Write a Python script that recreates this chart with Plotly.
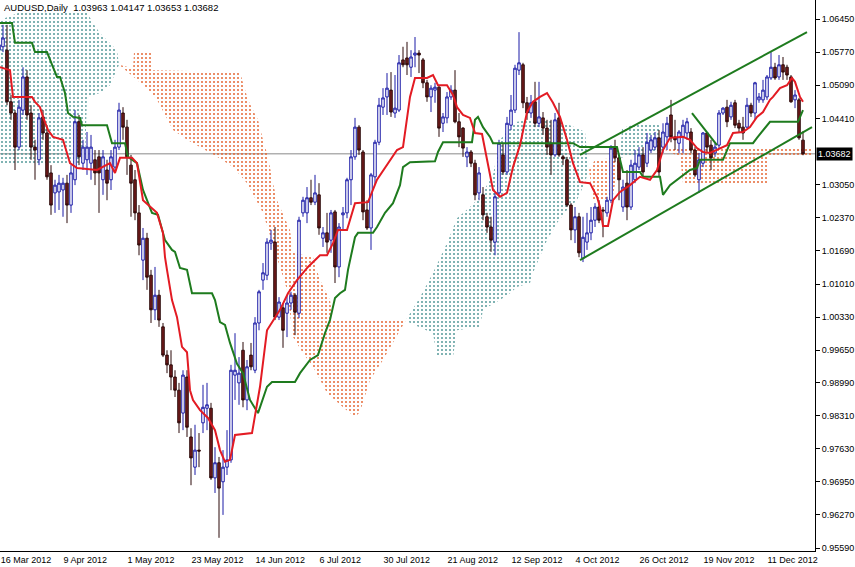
import plotly.graph_objects as go

# ---------------- data ----------------
bar_index = list(range(202))

open_ = [
1.0581,1.0588,1.0581,1.0475,1.0452,1.0382,1.0458,1.0526,1.0452,1.0382,
1.0356,1.0444,1.0411,1.0329,1.0288,1.0290,1.0294,1.0308,1.0263,1.0315,
1.0434,1.0349,1.0356,1.0349,1.0356,1.0362,1.0315,1.0335,1.0315,1.0341,
1.0382,1.0452,1.0423,1.0345,1.0315,1.0247,1.0150,1.0195,1.0119,1.0048,
1.0078,1.0013,0.9955,0.9935,0.9910,0.9883,0.9836,0.9910,0.9787,0.9725,
0.9760,0.9816,0.9846,0.9846,0.9703,0.9734,0.9695,0.9725,0.9740,0.9914,
0.9898,0.9965,0.9863,0.9955,0.9924,1.0021,1.0109,1.0119,1.0185,1.0187,
1.0033,1.0052,1.0041,1.0062,1.0078,1.0041,1.0247,1.0247,1.0278,1.0269,
1.0284,1.0195,1.0206,1.0191,1.0249,1.0136,1.0243,1.0247,1.0315,1.0362,
1.0423,1.0372,1.0253,1.0216,1.0321,1.0392,1.0464,1.0485,1.0499,1.0452,
1.0458,1.0561,1.0565,1.0546,1.0571,1.0575,1.0561,1.0514,1.0485,1.0499,
1.0505,1.0431,1.0442,1.0485,1.0499,1.0434,1.0421,1.0362,1.0372,1.0349,
1.0288,1.0284,1.0239,1.0218,1.0187,1.0288,1.0366,1.0331,1.0427,1.0458,
1.0540,1.0551,1.0473,1.0452,1.0475,1.0431,1.0442,1.0421,1.0390,1.0366,
1.0442,1.0362,1.0356,1.0263,1.0212,1.0239,1.0154,1.0187,1.0206,1.0232,
1.0259,1.0253,1.0247,1.0273,1.0380,1.0360,1.0259,1.0308,1.0259,1.0315,
1.0341,1.0366,1.0349,1.0376,1.0382,1.0401,1.0382,1.0403,1.0448,1.0403,
1.0390,1.0403,1.0411,1.0413,1.0376,1.0315,1.0349,1.0411,1.0386,1.0370,
1.0386,1.0452,1.0464,1.0444,1.0473,1.0431,1.0423,1.0423,1.0468,1.0452,
1.0479,1.0479,1.0485,1.0524,1.0546,1.0526,1.0551,1.0546,1.0526,1.0479,
1.0479,1.03963]

high = [
1.0622,1.0633,1.0633,1.0489,1.0458,1.0479,1.0546,1.0540,1.0468,1.0397,
1.0452,1.0458,1.0427,1.0345,1.0315,1.0325,1.0319,1.0325,1.0345,1.0458,
1.0448,1.0397,1.0413,1.0407,1.0376,1.0376,1.0376,1.0356,1.0376,1.0397,
1.0473,1.0464,1.0438,1.0366,1.0335,1.0263,1.0216,1.0206,1.0130,1.0136,
1.0089,1.0021,0.9965,0.9965,0.9924,0.9898,0.9924,0.9924,0.9805,0.9812,
0.9795,0.9894,0.9898,0.9857,0.9766,0.9746,0.9760,0.9801,0.9935,1.0000,
0.9951,0.9982,0.9945,0.9980,1.0033,1.0089,1.0144,1.0195,1.0212,1.0218,
1.0074,1.0062,1.0078,1.0085,1.0082,1.0239,1.0280,1.0300,1.0315,1.0325,
1.0308,1.0218,1.0247,1.0253,1.0253,1.0226,1.0259,1.0319,1.0376,1.0442,
1.0427,1.0376,1.0273,1.0329,1.0397,1.0483,1.0503,1.0534,1.0536,1.0530,
1.0571,1.0588,1.0598,1.0581,1.0608,1.0581,1.0565,1.0520,1.0509,1.0514,
1.0509,1.0452,1.0495,1.0509,1.0540,1.0452,1.0423,1.0382,1.0376,1.0356,
1.0341,1.0300,1.0247,1.0239,1.0288,1.0397,1.0390,1.0444,1.0489,1.0551,
1.0618,1.0555,1.0485,1.0489,1.0516,1.0516,1.0454,1.0438,1.0438,1.0452,
1.0473,1.0366,1.0362,1.0267,1.0259,1.0247,1.0239,1.0247,1.0259,1.0267,
1.0273,1.0259,1.0280,1.0386,1.0397,1.0366,1.0315,1.0335,1.0356,1.0376,
1.0382,1.0382,1.0411,1.0407,1.0413,1.0417,1.0431,1.0444,1.0479,1.0438,
1.0417,1.0438,1.0442,1.0421,1.0382,1.0370,1.0413,1.0413,1.0397,1.0390,
1.0458,1.0464,1.0479,1.0475,1.0479,1.0438,1.0444,1.0483,1.0473,1.0516,
1.0493,1.0520,1.0530,1.0577,1.0555,1.0571,1.0567,1.0551,1.0530,1.0499,
1.0483,1.04147]

low = [
1.0561,1.0577,1.0468,1.0438,1.0335,1.0376,1.0448,1.0438,1.0356,1.0315,
1.0345,1.0397,1.0315,1.0243,1.0247,1.0253,1.0239,1.0226,1.0247,1.0304,
1.0345,1.0335,1.0325,1.0315,1.0304,1.0247,1.0284,1.0273,1.0294,1.0335,
1.0376,1.0397,1.0325,1.0239,1.0232,1.0160,1.0109,1.0089,1.0021,1.0027,
1.0013,0.9951,0.9918,0.9883,0.9869,0.9795,0.9801,0.9787,0.9688,0.9709,
0.9725,0.9795,0.9801,0.9699,0.9672,0.9580,0.9627,0.9709,0.9734,0.9863,
0.9853,0.9848,0.9842,0.9924,0.9918,1.0006,1.0089,1.0109,1.0171,1.0027,
1.0027,0.9970,0.9992,1.0048,0.9996,1.0031,1.0239,1.0226,1.0263,1.0263,
1.0202,1.0177,1.0165,1.0165,1.0103,1.0115,1.0212,1.0236,1.0263,1.0356,
1.0366,1.0232,1.0212,1.0171,1.0304,1.0386,1.0448,1.0448,1.0444,1.0442,
1.0454,1.0546,1.0530,1.0526,1.0546,1.0534,1.0503,1.0475,1.0454,1.0473,
1.0403,1.0413,1.0431,1.0479,1.0431,1.0382,1.0362,1.0341,1.0341,1.0273,
1.0273,1.0232,1.0206,1.0167,1.0160,1.0280,1.0325,1.0325,1.0417,1.0452,
1.0530,1.0462,1.0438,1.0442,1.0423,1.0423,1.0407,1.0366,1.0325,1.0362,
1.0362,1.0345,1.0259,1.0191,1.0185,1.0156,1.0146,1.0171,1.0191,1.0218,
1.0226,1.0197,1.0239,1.0267,1.0351,1.0273,1.0249,1.0232,1.0253,1.0308,
1.0335,1.0321,1.0341,1.0370,1.0376,1.0321,1.0370,1.0376,1.0392,1.0376,
1.0370,1.0370,1.0397,1.0370,1.0321,1.0288,1.0341,1.0370,1.0335,1.0362,
1.0380,1.0448,1.0423,1.0438,1.0421,1.0413,1.0397,1.0421,1.0444,1.0438,
1.0473,1.0473,1.0479,1.0520,1.0520,1.0520,1.0520,1.0520,1.0473,1.0462,
1.0397,1.03653]

close = [
1.0592,1.0606,1.0475,1.0452,1.0382,1.0464,1.0526,1.0448,1.0382,1.0376,
1.0442,1.0411,1.0321,1.0263,1.0304,1.0308,1.0308,1.0263,1.0329,1.0434,
1.0362,1.0382,1.0382,1.0382,1.0329,1.0329,1.0362,1.0308,1.0362,1.0382,
1.0458,1.0423,1.0362,1.0308,1.0247,1.0181,1.0195,1.0115,1.0048,1.0078,
1.0027,0.9955,0.9935,0.9910,0.9883,0.9816,0.9914,0.9807,0.9744,0.9760,
0.9758,0.9848,0.9853,0.9703,0.9734,0.9682,0.9725,0.9740,0.9924,0.9924,
0.9918,0.9863,0.9931,0.9931,1.0021,1.0085,1.0124,1.0187,1.0191,1.0033,
1.0064,1.0006,1.0062,1.0078,1.0043,1.0232,1.0273,1.0278,1.0269,1.0288,
1.0216,1.0206,1.0187,1.0247,1.0136,1.0218,1.0247,1.0315,1.0362,1.0423,
1.0376,1.0249,1.0216,1.0325,1.0392,1.0468,1.0483,1.0503,1.0454,1.0462,
1.0555,1.0551,1.0551,1.0567,1.0575,1.0571,1.0514,1.0485,1.0503,1.0505,
1.0421,1.0444,1.0485,1.0499,1.0434,1.0403,1.0380,1.0372,1.0349,1.0284,
1.0329,1.0243,1.0218,1.0191,1.0280,1.0390,1.0331,1.0431,1.0458,1.0544,
1.0555,1.0473,1.0452,1.0473,1.0431,1.0444,1.0421,1.0382,1.0366,1.0438,
1.0366,1.0358,1.0263,1.0212,1.0239,1.0165,1.0197,1.0206,1.0232,1.0259,
1.0232,1.0251,1.0273,1.0380,1.0360,1.0315,1.0300,1.0259,1.0345,1.0349,
1.0366,1.0331,1.0392,1.0397,1.0401,1.0331,1.0413,1.0431,1.0403,1.0397,
1.0413,1.0427,1.0434,1.0376,1.0325,1.0356,1.0411,1.0382,1.0360,1.0382,
1.0452,1.0462,1.0434,1.0468,1.0427,1.0421,1.0411,1.0468,1.0452,1.0514,
1.0485,1.0499,1.0526,1.0546,1.0524,1.0551,1.0536,1.0530,1.0475,1.0489,
1.0401,1.03682]

# Tenkan-sen (red) vertices: bar index / price
tenkan_x = [0.25,2.75,3.5,8.25,9.0,10.25,11.0,12.25,13.5,16.0,17.75,19.5,24.5,27.75,29.0,30.25,33.25,34.5,
            36.0,39.5,41.0,41.5,42.0,43.25,44.5,45.75,47.0,47.75,48.5,50.25,52.25,54.0,55.25,56.5,57.75,59.0,
            63.25,64.75,65.25,67.0,70.25,72.25,74.5,77.25,80.25,82.0,83.5,84.75,87.0,89.0,92.25,94.5,97.75,
            99.5,101.0,102.0,102.75,104.0,107.0,108.5,109.75,112.0,113.5,114.5,116.0,117.75,119.0,120.75,122.0,
            123.5,125.25,127.0,128.5,130.25,132.0,133.5,135.25,137.0,138.5,140.25,142.0,143.5,145.25,147.75,
            149.5,150.25,151.0,152.25,153.5,155.25,157.75,160.25,162.75,164.5,166.0,167.75,171.0,172.75,174.5,
            176.0,177.75,179.5,182.0,183.5,186.0,187.75,189.5,191.0,192.75,193.5,195.25,197.0,198.25,199.0,
            200.25,201.0]
tenkan_y = [1.0546,1.0540,1.0485,1.0485,1.0475,1.0464,1.0444,1.0417,1.0403,1.0397,1.0349,1.0339,1.0335,1.0349,1.0329,1.0360,1.0360,1.0349,
            1.0273,1.0247,1.0206,1.0156,1.0130,1.0068,1.0033,0.9972,0.9961,0.9883,0.9863,0.9842,0.9826,0.9801,0.9760,0.9736,0.9740,0.9791,
            0.9795,0.9863,0.9890,1.0006,1.0048,1.0082,1.0109,1.0136,1.0160,1.0160,1.0185,1.0212,1.0212,1.0267,1.0269,1.0315,1.0356,
            1.0376,1.0382,1.0438,1.0485,1.0524,1.0524,1.0530,1.0509,1.0509,1.0489,1.0464,1.0448,1.0442,1.0411,1.0409,1.0356,
            1.0294,1.0280,1.0288,1.0341,1.0386,1.0454,1.0475,1.0485,1.0493,1.0473,1.0444,1.0397,1.0349,1.0310,1.0308,
            1.0280,1.0259,1.0220,1.0220,1.0273,1.0290,1.0304,1.0321,1.0315,1.0335,1.0376,1.0401,1.0403,1.0397,1.0380,
            1.0372,1.0370,1.0376,1.0386,1.0411,1.0413,1.0423,1.0444,1.0454,1.0479,1.0485,1.0503,1.0509,1.0524,1.0516,
            1.0485,1.0475]

# Kijun-sen (green) vertices
kijun_x = [0.25,3.25,4.0,8.25,9.0,12.0,13.5,14.5,15.25,16.5,17.25,18.5,20.25,20.75,27.0,28.25,31.5,32.25,34.5,
           36.0,37.0,38.25,39.75,41.5,43.25,44.0,45.25,47.0,48.25,53.25,54.0,55.25,56.5,57.75,59.5,61.0,62.75,
           64.75,67.0,68.25,74.0,75.25,77.75,79.75,81.5,82.75,84.0,85.25,86.5,87.25,89.0,89.75,93.5,94.5,96.5,
           98.5,100.25,101.0,102.75,109.0,109.75,111.0,118.25,119.0,119.75,121.0,122.75,123.5,143.5,145.25,
           154.5,156.0,160.25,161.0,165.25,166.0,167.75,169.5,171.0,172.75,174.5,175.25,181.0,182.75,188.5,
           189.5,192.75,199.75,201.0]
kijun_y = [1.0637,1.0637,1.0596,1.0596,1.0577,1.0577,1.0546,1.0526,1.0526,1.0493,1.0452,1.0444,1.0442,1.0427,1.0427,1.0390,1.0390,1.0362,1.0349,
           1.0294,1.0273,1.0247,1.0243,1.0191,1.0171,1.0167,1.0134,1.0130,1.0082,1.0082,1.0068,1.0023,1.0017,0.9980,0.9937,0.9918,0.9863,
           0.9836,0.9890,0.9900,0.9900,0.9918,0.9945,0.9955,1.0000,1.0027,1.0072,1.0082,1.0089,1.0130,1.0197,1.0206,1.0206,1.0218,1.0247,
           1.0267,1.0304,1.0341,1.0351,1.0353,1.0372,1.0392,1.0392,1.0438,1.0444,1.0423,1.0403,1.0390,1.0390,1.0382,
           1.0382,1.0331,1.0331,1.0321,1.0321,1.0284,1.0304,1.0315,1.0325,1.0335,1.0339,1.0356,1.0356,1.0390,1.0390,
           1.0401,1.0434,1.0434,1.0458]

# drawn trend lines
channel_upper_x = [145.25, 202.0]
channel_upper_y = [1.0366, 1.0618]
channel_lower_x = [145.25, 203.25]
channel_lower_y = [1.0150, 1.0423]
flag_line_x = [173.25, 179.5]
flag_line_y = [1.0452, 1.0386]

# Kumo (cloud) outlines: top and bottom edges of each section
kumo1_top_x = [0.25,5.25,22.0,23.5,25.25,27.75,29.5,30.0]
kumo1_top_y = [1.0643,1.0659,1.0659,1.0637,1.0616,1.0596,1.0581,1.0551]
kumo1_bot_x = [0.25,21.5,22.0,25.25,27.75,30.0]
kumo1_bot_y = [1.0349,1.0349,1.0485,1.0493,1.0509,1.0551]

kumo2_top_x = [30.0,33.5,33.75,38.25,38.5,60.25,61.0,62.25,63.5,64.75,66.0,67.25,68.5,69.5,72.75,73.5,78.5,80.25,82.75,83.5,101.75]
kumo2_top_y = [1.0551,1.0544,1.0577,1.0577,1.0540,1.0536,1.0514,1.0479,1.0458,1.0438,1.0397,1.0362,1.0308,1.0273,1.0212,1.0165,1.0156,1.0109,1.0068,1.0027,1.0027]
kumo2_bot_x = [30.0,37.0,39.5,43.5,47.0,50.25,54.5,58.5,62.0,66.0,69.5,72.0,73.5,76.0,78.5,80.25,82.0,86.0,89.0,90.25,92.75,96.0,101.75]
kumo2_bot_y = [1.0551,1.0503,1.0479,1.0417,1.0397,1.0382,1.0362,1.0341,1.0308,1.0247,1.0156,1.0089,0.9992,0.9959,0.9931,0.9904,0.9877,0.9848,0.9828,0.9838,0.9904,0.9945,1.0027]

kumo3_top_x = [101.75,105.25,108.5,112.0,114.5,117.75,120.25,123.5,125.25,127.75,129.5,132.75,140.25,144.0,146.5,147.5]
kumo3_top_y = [1.0027,1.0074,1.0124,1.0185,1.0236,1.0259,1.0280,1.0325,1.0397,1.0421,1.0434,1.0438,1.0434,1.0423,1.0413,1.0335]
kumo3_bot_x = [101.75,102.75,108.5,109.5,113.5,114.5,120.25,121.0,125.25,127.75,129.5,132.75,133.5,137.0,139.5,142.0,144.5,146.5,147.5]
kumo3_bot_y = [1.0027,1.0021,1.0000,0.9951,0.9951,1.0006,1.0013,1.0048,1.0068,1.0082,1.0095,1.0103,1.0124,1.0191,1.0226,1.0253,1.0273,1.0310,1.0335]

kumo4_top_x = [147.5,149.0,155.25]
kumo4_top_y = [1.0335,1.0356,1.0360]
kumo4_bot_x = [147.5,148.5,153.25,155.25]
kumo4_bot_y = [1.0335,1.0273,1.0273,1.0360]

kumo5_top_x = [155.25,155.75,160.25,165.25,166.5]
kumo5_top_y = [1.0360,1.0421,1.0431,1.0427,1.0376]
kumo5_bot_x = [155.25,160.25,166.5]
kumo5_bot_y = [1.0360,1.0366,1.0376]

kumo6_top_x = [166.5,169.0,203.5]
kumo6_top_y = [1.0376,1.0382,1.0382]
kumo6_bot_x = [166.5,170.25,171.0,192.0,192.5,203.5]
kumo6_bot_y = [1.0376,1.0362,1.0308,1.0308,1.0362,1.0362]

date_tick_idx = [0, 16, 32, 48, 64, 80, 96, 112, 128, 144, 160, 176, 192]
date_tick_text = ["16 Mar 2012", "9 Apr 2012", "1 May 2012", "23 May 2012", "14 Jun 2012",
                  "6 Jul 2012", "30 Jul 2012", "21 Aug 2012", "12 Sep 2012", "4 Oct 2012",
                  "26 Oct 2012", "19 Nov 2012", "11 Dec 2012"]
price_tick_vals = [1.06450, 1.05770, 1.05090, 1.04410, 1.03050, 1.02370, 1.01690, 1.01010,
                   1.00330, 0.99650, 0.98990, 0.98310, 0.97630, 0.96950, 0.96270, 0.95590]
last_price = 1.03682
header_text = "AUDUSD,Daily\u00a0\u00a01.03963 1.04147 1.03653 1.03682"

# ---------------- styling ----------------
FONT = "Liberation Sans, Arial, sans-serif"
TEAL = "#4f9696"
ORANGE = "#e5622e"
RED = "#e31b23"
GREEN = "#1e7b1e"
X_RANGE = [0.25, 204.0]
Y_RANGE = [0.95529, 1.0684]

fig = go.Figure()

def add_kumo(tx, ty, bx, by, color):
    fig.add_trace(go.Scatter(
        x=tx + bx[::-1], y=ty + by[::-1], mode="lines", line=dict(width=0),
        fill="toself", fillcolor="rgba(0,0,0,0)",
        fillpattern=dict(shape=".", size=4, solidity=0.22, fgcolor=color,
                         bgcolor="rgba(0,0,0,0)", fgopacity=0.9),
        hoverinfo="skip", showlegend=False, xaxis="x", yaxis="y"))

add_kumo(kumo1_top_x, kumo1_top_y, kumo1_bot_x, kumo1_bot_y, TEAL)
add_kumo(kumo2_top_x, kumo2_top_y, kumo2_bot_x, kumo2_bot_y, ORANGE)
add_kumo(kumo3_top_x, kumo3_top_y, kumo3_bot_x, kumo3_bot_y, TEAL)
add_kumo(kumo4_top_x, kumo4_top_y, kumo4_bot_x, kumo4_bot_y, ORANGE)
add_kumo(kumo5_top_x, kumo5_top_y, kumo5_bot_x, kumo5_bot_y, TEAL)
add_kumo(kumo6_top_x, kumo6_top_y, kumo6_bot_x, kumo6_bot_y, ORANGE)

fig.add_trace(go.Candlestick(
    x=bar_index, open=open_, high=high, low=low, close=close,
    increasing=dict(line=dict(color="#1a1aa6", width=1), fillcolor="#ffffff"),
    decreasing=dict(line=dict(color="#2a0808", width=1), fillcolor="#741c1c"),
    whiskerwidth=0, hoverinfo="skip", showlegend=False, xaxis="x2", yaxis="y2"))

for xs, ys, col in [(kijun_x, kijun_y, GREEN), (tenkan_x, tenkan_y, RED),
                    (channel_upper_x, channel_upper_y, GREEN),
                    (channel_lower_x, channel_lower_y, GREEN),
                    (flag_line_x, flag_line_y, GREEN)]:
    fig.add_trace(go.Scatter(x=xs, y=ys, mode="lines", line=dict(color=col, width=2),
                             hoverinfo="skip", showlegend=False, xaxis="x2", yaxis="y2"))

fig.add_shape(type="line", xref="paper", x0=0, x1=1, yref="y", y0=last_price, y1=last_price,
              line=dict(color="#8a8a8a", width=1), layer="below")

fig.add_annotation(xref="paper", x=0, xanchor="left", xshift=2, yref="paper", y=1, yanchor="top",
                   yshift=0, text=header_text, showarrow=False,
                   font=dict(family=FONT, size=9.5, color="#000000"))
fig.add_annotation(xref="paper", x=1, xanchor="left", xshift=1, yref="y", y=last_price,
                   text=f"{last_price:.5f}", showarrow=False,
                   bgcolor="#000000", borderpad=1,
                   font=dict(family=FONT, size=9, color="#ffffff"))

fig.update_layout(
    width=855, height=567,
    margin=dict(l=0, r=40, t=0, b=16),
    paper_bgcolor="#ffffff", plot_bgcolor="#ffffff",
    font=dict(family=FONT, size=9, color="#000000"),
    showlegend=False,
    boxgap=0.1,
    xaxis=dict(range=X_RANGE, showgrid=False, zeroline=False, showline=True, linecolor="#000000",
               linewidth=1, tickmode="array",
               tickvals=[max(v, 0.3) for v in date_tick_idx], ticktext=date_tick_text,
               ticks="", ticklabelposition="outside right",
               tickfont=dict(family=FONT, size=9, color="#000000"),
               rangeslider=dict(visible=False), fixedrange=True),
    yaxis=dict(range=Y_RANGE, side="right", showgrid=False, zeroline=False, showline=True,
               linecolor="#000000", linewidth=1, tickmode="array", tickvals=price_tick_vals,
               ticktext=[f"{v:.5f}" for v in price_tick_vals], ticks="outside", ticklen=4,
               tickcolor="#000000", tickfont=dict(family=FONT, size=9, color="#000000"),
               fixedrange=True),
    xaxis2=dict(range=X_RANGE, overlaying="x", visible=False, rangeslider=dict(visible=False)),
    yaxis2=dict(range=Y_RANGE, overlaying="y", side="right", visible=False),
)

fig.write_html("out.html", config={"displayModeBar": False},
               post_script="document.body.style.margin='0';document.body.style.padding='0';")
